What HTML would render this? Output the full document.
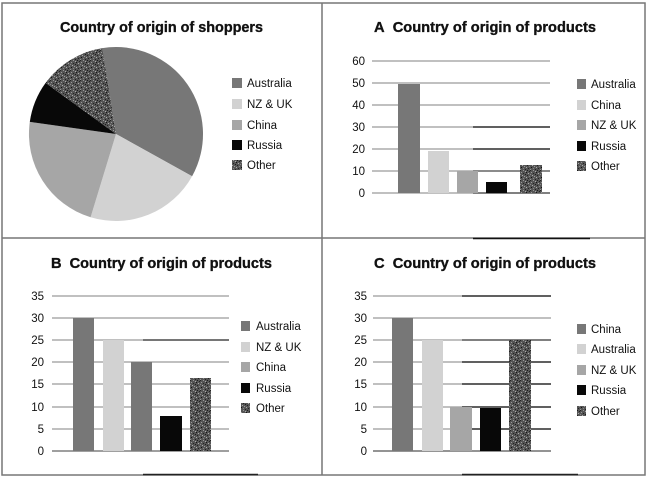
<!DOCTYPE html>
<html><head><meta charset="utf-8"><style>
html,body{margin:0;padding:0;background:#fff;}
svg{display:block;}
text{font-family:"Liberation Sans",sans-serif;fill:#111;}
.t{font-weight:bold;font-size:15px;stroke:#111;stroke-width:0.35px;}
.l{font-size:11.5px;}
.k{font-size:11.5px;}
</style></head><body>
<svg width="649" height="478" viewBox="0 0 649 478" xmlns="http://www.w3.org/2000/svg">
<defs>
<pattern id="tex" width="10" height="10" patternUnits="userSpaceOnUse">
<rect width="10" height="10" fill="#555"/>
<rect x="0" y="0" width="1" height="1" fill="#222"/>
<rect x="3" y="0" width="1" height="1" fill="#999"/>
<rect x="7" y="0" width="1" height="1" fill="#1a1a1a"/>
<rect x="5" y="1" width="1" height="1" fill="#aaa"/>
<rect x="9" y="1" width="1" height="1" fill="#222"/>
<rect x="1" y="2" width="1" height="1" fill="#999"/>
<rect x="6" y="2" width="1" height="1" fill="#111"/>
<rect x="3" y="3" width="1" height="1" fill="#222"/>
<rect x="8" y="3" width="1" height="1" fill="#aaa"/>
<rect x="0" y="4" width="1" height="1" fill="#888"/>
<rect x="5" y="4" width="1" height="1" fill="#1a1a1a"/>
<rect x="2" y="5" width="1" height="1" fill="#aaa"/>
<rect x="7" y="5" width="1" height="1" fill="#222"/>
<rect x="4" y="6" width="1" height="1" fill="#999"/>
<rect x="9" y="6" width="1" height="1" fill="#888"/>
<rect x="1" y="7" width="1" height="1" fill="#111"/>
<rect x="6" y="7" width="1" height="1" fill="#aaa"/>
<rect x="3" y="8" width="1" height="1" fill="#888"/>
<rect x="8" y="8" width="1" height="1" fill="#222"/>
<rect x="0" y="9" width="1" height="1" fill="#999"/>
<rect x="5" y="9" width="1" height="1" fill="#222"/>
</pattern>
</defs>
<rect width="649" height="478" fill="#fff"/>
<!-- borders -->
<rect x="2" y="3" width="643" height="472" fill="none" stroke="#777" stroke-width="1.5"/>
<line x1="322" y1="3" x2="322" y2="475" stroke="#777" stroke-width="1.5"/>
<line x1="2" y1="238" x2="645" y2="238" stroke="#777" stroke-width="1.5"/>
<line x1="473" y1="238.5" x2="590" y2="238.5" stroke="#111" stroke-width="1.5"/>
<line x1="143" y1="474.5" x2="258" y2="474.5" stroke="#222" stroke-width="1.5"/>
<line x1="462" y1="474.5" x2="578" y2="474.5" stroke="#222" stroke-width="1.5"/>

<!-- Pie panel -->
<text class="t" x="60" y="32" textLength="203" lengthAdjust="spacingAndGlyphs">Country of origin of shoppers</text>
<path d="M116,134 L102.4,48.1 A87,87 0 0 1 192.1,176.2 Z" fill="#777"/>
<path d="M116,134 L192.1,176.2 A87,87 0 0 1 90.6,217.2 Z" fill="#d2d2d2"/>
<path d="M116,134 L90.6,217.2 A87,87 0 0 1 29.8,121.9 Z" fill="#a6a6a6"/>
<path d="M116,134 L29.8,121.9 A87,87 0 0 1 45.6,82.9 Z" fill="#080808"/>
<path d="M116,134 L45.6,82.9 A87,87 0 0 1 102.4,48.1 Z" fill="url(#tex)"/>
<rect x="232" y="78" width="10" height="10" fill="#777"/>
<rect x="232" y="99" width="10" height="10" fill="#d2d2d2"/>
<rect x="232" y="120" width="10" height="10" fill="#a6a6a6"/>
<rect x="232" y="140" width="10" height="10" fill="#080808"/>
<rect x="232" y="160" width="10" height="10" fill="url(#tex)"/>
<text class="l" x="247" y="87">Australia</text>
<text class="l" x="247" y="108">NZ &amp; UK</text>
<text class="l" x="247" y="129">China</text>
<text class="l" x="247" y="149">Russia</text>
<text class="l" x="247" y="169">Other</text>

<!-- Panel A -->
<text class="t" x="374" y="32" textLength="222" lengthAdjust="spacingAndGlyphs">A&#160; Country of origin of products</text>
<g stroke="#9a9a9a" stroke-width="1.3">
<line x1="372" y1="61" x2="550" y2="61"/>
<line x1="372" y1="83" x2="550" y2="83"/>
<line x1="372" y1="105" x2="550" y2="105"/>
<line x1="372" y1="127" x2="550" y2="127"/>
<line x1="372" y1="149" x2="550" y2="149"/>
<line x1="372" y1="171" x2="550" y2="171"/>
<line x1="372" y1="193" x2="550" y2="193"/>
</g>
<g stroke="#111" stroke-width="1.3">
<line x1="473" y1="127" x2="550" y2="127"/>
<line x1="473" y1="149" x2="550" y2="149"/>
<line x1="473" y1="171" x2="550" y2="171" stroke="#555"/>
<line x1="473" y1="193" x2="550" y2="193" stroke="#444"/>
</g>
<g class="k" text-anchor="end">
<text x="365" y="65">60</text>
<text x="365" y="87">50</text>
<text x="365" y="109">40</text>
<text x="365" y="131">30</text>
<text x="365" y="153">20</text>
<text x="365" y="175">10</text>
<text x="365" y="197">0</text>
</g>
<rect x="398" y="84" width="22" height="109" fill="#777"/>
<rect x="428" y="151" width="21" height="42" fill="#d2d2d2"/>
<rect x="457" y="171" width="21" height="22" fill="#a6a6a6"/>
<rect x="486" y="182" width="21" height="11" fill="#080808"/>
<rect x="520" y="165" width="22" height="28" fill="url(#tex)"/>
<rect x="577" y="79" width="9" height="10" fill="#777"/>
<rect x="577" y="100" width="9" height="10" fill="#d2d2d2"/>
<rect x="577" y="120" width="9" height="10" fill="#a6a6a6"/>
<rect x="577" y="141" width="9" height="10" fill="#080808"/>
<rect x="577" y="161" width="9" height="10" fill="url(#tex)"/>
<text class="l" x="591" y="88">Australia</text>
<text class="l" x="591" y="109">China</text>
<text class="l" x="591" y="129">NZ &amp; UK</text>
<text class="l" x="591" y="150">Russia</text>
<text class="l" x="591" y="170">Other</text>

<!-- Panel B -->
<text class="t" x="51" y="268" textLength="221" lengthAdjust="spacingAndGlyphs">B&#160; Country of origin of products</text>
<g stroke="#9a9a9a" stroke-width="1.3">
<line x1="52" y1="296" x2="229" y2="296"/>
<line x1="52" y1="318" x2="229" y2="318"/>
<line x1="52" y1="340" x2="229" y2="340"/>
<line x1="52" y1="362" x2="229" y2="362"/>
<line x1="52" y1="384" x2="229" y2="384"/>
<line x1="52" y1="407" x2="229" y2="407"/>
<line x1="52" y1="429" x2="229" y2="429"/>
<line x1="52" y1="451" x2="229" y2="451" stroke="#666"/>
</g>
<line x1="143" y1="340" x2="229" y2="340" stroke="#333" stroke-width="1.3"/>
<g class="k" text-anchor="end">
<text x="44" y="300">35</text>
<text x="44" y="322">30</text>
<text x="44" y="344">25</text>
<text x="44" y="366">20</text>
<text x="44" y="388">15</text>
<text x="44" y="411">10</text>
<text x="44" y="433">5</text>
<text x="44" y="455">0</text>
</g>
<rect x="73" y="318" width="21" height="133" fill="#777"/>
<rect x="103" y="340" width="21" height="111" fill="#d2d2d2"/>
<rect x="131" y="362" width="21" height="89" fill="#777"/>
<rect x="160" y="416" width="22" height="35" fill="#080808"/>
<rect x="190" y="378" width="21" height="73" fill="url(#tex)"/>
<rect x="241" y="321" width="9" height="10" fill="#777"/>
<rect x="241" y="342" width="9" height="10" fill="#d2d2d2"/>
<rect x="241" y="362" width="9" height="10" fill="#a6a6a6"/>
<rect x="241" y="383" width="9" height="10" fill="#080808"/>
<rect x="241" y="403" width="9" height="10" fill="url(#tex)"/>
<text class="l" x="256" y="330">Australia</text>
<text class="l" x="256" y="351">NZ &amp; UK</text>
<text class="l" x="256" y="371">China</text>
<text class="l" x="256" y="392">Russia</text>
<text class="l" x="256" y="412">Other</text>

<!-- Panel C -->
<text class="t" x="374" y="268" textLength="222" lengthAdjust="spacingAndGlyphs">C&#160; Country of origin of products</text>
<g stroke="#9a9a9a" stroke-width="1.3">
<line x1="373" y1="296" x2="551" y2="296"/>
<line x1="373" y1="318" x2="551" y2="318"/>
<line x1="373" y1="340" x2="551" y2="340"/>
<line x1="373" y1="362" x2="551" y2="362"/>
<line x1="373" y1="384" x2="551" y2="384"/>
<line x1="373" y1="407" x2="551" y2="407"/>
<line x1="373" y1="429" x2="551" y2="429"/>
<line x1="373" y1="451" x2="551" y2="451" stroke="#555"/>
</g>
<g stroke="#111" stroke-width="1.3">
<line x1="462" y1="296" x2="551" y2="296"/>
<line x1="462" y1="340" x2="551" y2="340" stroke="#444"/>
<line x1="462" y1="362" x2="551" y2="362"/>
<line x1="462" y1="384" x2="551" y2="384"/>
<line x1="462" y1="407" x2="551" y2="407"/>
<line x1="462" y1="429" x2="551" y2="429"/>
</g>
<g class="k" text-anchor="end">
<text x="367" y="300">35</text>
<text x="367" y="322">30</text>
<text x="367" y="344">25</text>
<text x="367" y="366">20</text>
<text x="367" y="388">15</text>
<text x="367" y="411">10</text>
<text x="367" y="433">5</text>
<text x="367" y="455">0</text>
</g>
<rect x="392" y="318" width="21" height="133" fill="#777"/>
<rect x="422" y="340" width="21" height="111" fill="#d2d2d2"/>
<rect x="450" y="407" width="22" height="44" fill="#a6a6a6"/>
<rect x="480" y="408" width="21" height="43" fill="#080808"/>
<rect x="509" y="340" width="22" height="111" fill="url(#tex)"/>
<rect x="577" y="324" width="9" height="10" fill="#777"/>
<rect x="577" y="344" width="9" height="10" fill="#d2d2d2"/>
<rect x="577" y="365" width="9" height="10" fill="#a6a6a6"/>
<rect x="577" y="385" width="9" height="10" fill="#080808"/>
<rect x="577" y="406" width="9" height="10" fill="url(#tex)"/>
<text class="l" x="591" y="333">China</text>
<text class="l" x="591" y="353">Australia</text>
<text class="l" x="591" y="374">NZ &amp; UK</text>
<text class="l" x="591" y="394">Russia</text>
<text class="l" x="591" y="415">Other</text>
</svg>
</body></html>
